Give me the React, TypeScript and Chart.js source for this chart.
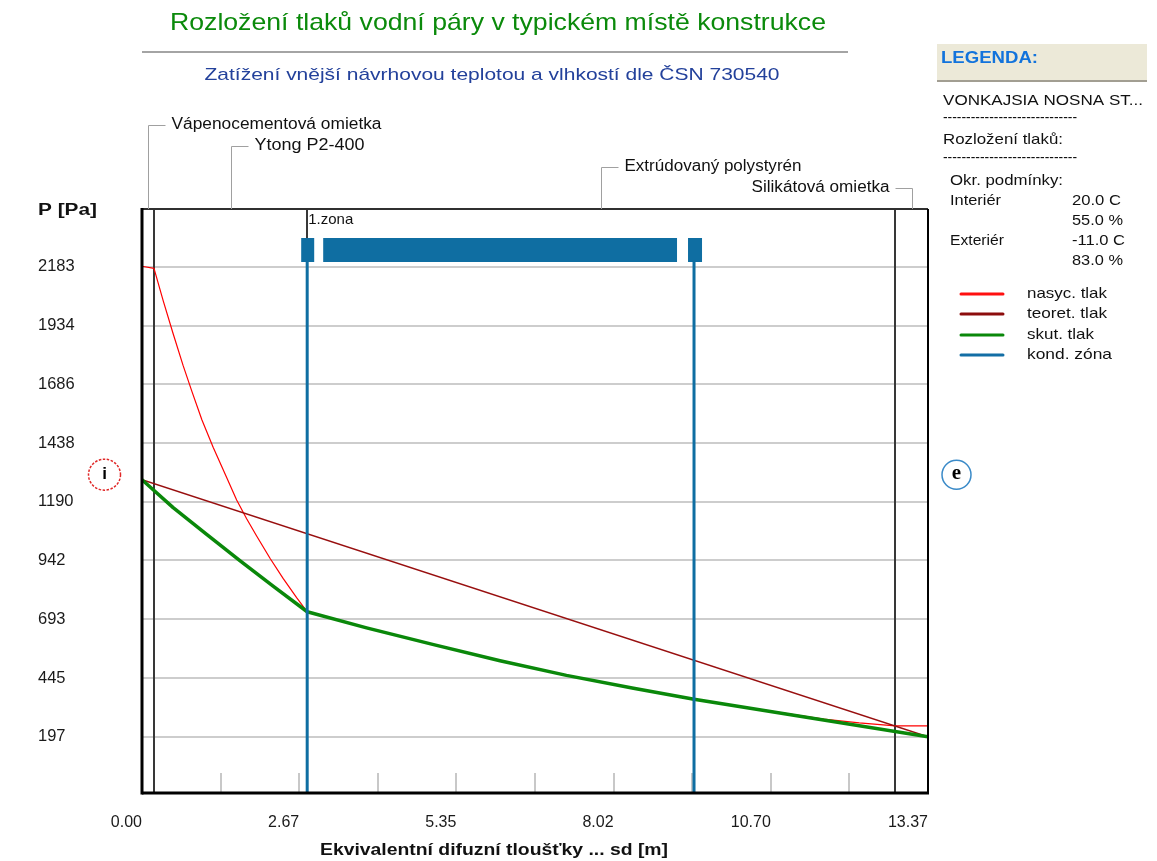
import React, { useEffect, useRef } from 'react';
import { Chart, registerables } from 'chart.js';

Chart.register(...registerables);

const CANVAS_W = 1157;
const CANVAS_H = 861;

const chartTitle = 'Rozložení tlaků vodní páry v typickém místě konstrukce';
const chartSubtitle = 'Zatížení vnější návrhovou teplotou a vlhkostí dle ČSN 730540';
const xAxisTitle = 'Ekvivalentní difuzní tloušťky ... sd [m]';
const yAxisTitle = 'P [Pa]';

const xTickValues = [0, 1.337, 2.674, 4.011, 5.348, 6.685, 8.022, 9.359, 10.696, 12.033, 13.37];
const xTickLabels = ['0.00', '', '2.67', '', '5.35', '', '8.02', '', '10.70', '', '13.37'];
const yTickValues = [197, 445, 693, 942, 1190, 1438, 1686, 1934, 2183];

// saturated vapour pressure (nasyc. tlak)
const satSd = [0, 0.204, 0.36, 0.53, 0.7, 0.85, 1.02, 1.21, 1.44, 1.61, 1.78, 1.95, 2.18, 2.4, 2.63, 2.81, 3.82, 4.96, 6.09, 7.22, 8.36, 9.39, 10.2, 11.0, 11.6, 12.2, 12.81, 13.37];
const satP = [2185, 2176, 2040, 1900, 1765, 1655, 1535, 1420, 1292, 1197, 1118, 1045, 950, 866, 785, 725, 657, 586, 518, 456, 402, 355, 324, 293, 271, 255, 243, 243];

// actual vapour pressure (skut. tlak)
const actSd = [0, 0.53, 1.1, 1.67, 2.23, 2.81, 3.82, 4.96, 6.09, 7.22, 8.36, 9.39, 13.37];
const actP = [1283, 1165, 1052, 940, 833, 725, 657, 586, 518, 456, 402, 355, 197];

// theoretical vapour pressure (teoret. tlak)
const theorSd = [0, 13.37];
const theorP = [1283, 197];

const layerEdges = [0, 0.204, 2.81, 12.81, 13.37];
const layerNames = ['Vápenocementová omietka', 'Ytong P2-400', 'Extrúdovaný polystyrén', 'Silikátová omietka'];
const zoneBounds = [2.81, 9.39];
const zoneName = '1.zona';

const legendHeader = 'LEGENDA:';
const legendConstruction = 'VONKAJSIA NOSNA ST...';
const legendSection = 'Rozložení tlaků:';
const legendDashes = '-----------------------------';
const boundaryTitle = 'Okr. podmínky:';
const boundaryLabels = ['Interiér', '', 'Exteriér', ''];
const boundaryValues = ['20.0 C', '55.0 %', '-11.0 C', '83.0 %'];
const seriesNames = ['nasyc. tlak', 'teoret. tlak', 'skut. tlak', 'kond. zóna'];
const seriesColors = ['#ff1010', '#8c0c0c', '#0a880a', '#136ea5'];

const SANS = '"Liberation Sans", Arial, sans-serif';

type TextOpts = { size: number; color?: string; weight?: string; family?: string; align?: 'left' | 'center' | 'right'; width?: number };

function drawText(ctx: CanvasRenderingContext2D, text: string, x: number, y: number, o: TextOpts) {
  ctx.save();
  ctx.font = `${o.weight || 'normal'} ${o.size}px ${o.family || SANS}`;
  ctx.fillStyle = o.color || '#111';
  ctx.textBaseline = 'middle';
  ctx.textAlign = 'left';
  const m = ctx.measureText(text).width;
  const w = o.width ?? m;
  const sx = o.width ? o.width / m : 1;
  let left = x;
  if (o.align === 'center') left = x - w / 2;
  else if (o.align === 'right') left = x - w;
  ctx.translate(left, y);
  ctx.scale(sx, 1);
  ctx.fillText(text, 0, 0);
  ctx.restore();
}

function line(ctx: CanvasRenderingContext2D, pts: number[][], color: string, width: number) {
  ctx.save();
  ctx.strokeStyle = color;
  ctx.lineWidth = width;
  ctx.beginPath();
  pts.forEach((p, i) => (i ? ctx.lineTo(p[0], p[1]) : ctx.moveTo(p[0], p[1])));
  ctx.stroke();
  ctx.restore();
}

const overlayPlugin = {
  id: 'overlay',
  beforeDatasetsDraw(chart: any) {
    const { ctx, chartArea: a, scales } = chart;
    const x = scales.x;
    xTickValues.forEach((v, i) => {
      if (i === 0 || i === xTickValues.length - 1) return;
      const px = Math.round(x.getPixelForValue(v));
      line(ctx, [[px, a.bottom - 20], [px, a.bottom]], '#c8c8c8', 2);
    });
    layerEdges.slice(1, -1).forEach((v) => {
      const px = Math.round(x.getPixelForValue(v));
      line(ctx, [[px, a.top], [px, a.bottom]], '#383838', 2);
    });
  },
  afterDatasetsDraw(chart: any) {
    const { ctx, chartArea: a, scales } = chart;
    const x = scales.x;
    const x1 = x.getPixelForValue(zoneBounds[0]);
    const x2 = x.getPixelForValue(zoneBounds[1]);
    const barTop = a.top + 29;
    const barH = 24;
    const blue = '#0f6ea2';
    [x1, x2].forEach((px) => line(ctx, [[px, barTop + barH], [px, a.bottom]], blue, 3));
    ctx.save();
    ctx.fillStyle = blue;
    ctx.fillRect(x1 - 6, barTop, 13, barH);
    ctx.fillRect(x1 + 16, barTop, x2 - x1 - 33, barH);
    ctx.fillRect(x2 - 6, barTop, 14, barH);
    ctx.restore();
    drawText(ctx, zoneName, x1 + 1, a.top + 11, { size: 15, color: '#111' });
  },
  afterDraw(chart: any) {
    const { ctx, chartArea: a, scales } = chart;
    const x = scales.x;
    const y = scales.y;

    // frame
    line(ctx, [[a.left, a.top], [a.right, a.top]], '#303030', 2);
    line(ctx, [[a.right, a.top], [a.right, a.bottom]], '#000', 2);
    line(ctx, [[a.left, a.top - 1], [a.left, a.bottom + 1.5]], '#000', 3);
    line(ctx, [[a.left, a.bottom], [a.right + 1, a.bottom]], '#000', 3);

    // titles
    drawText(ctx, chartTitle, 498, 23, { size: 24, color: '#0b8a0b', align: 'center', width: 656 });
    ctx.save();
    ctx.fillStyle = '#a4a4a4';
    ctx.fillRect(a.left, 51, 848 - a.left, 2);
    ctx.restore();
    drawText(ctx, chartSubtitle, 492, 75, { size: 17, color: '#23419b', align: 'center', width: 575 });

    // layer labels with leaders
    const rowY = [125, 146, 167, 188];
    const labelW = [210, 110, 177, 138];
    layerNames.forEach((name, i) => {
      const mid = Math.round(x.getPixelForValue((layerEdges[i] + layerEdges[i + 1]) / 2)) + 0.5;
      const ry = rowY[i] + 0.5;
      if (i < layerNames.length - 1) {
        line(ctx, [[mid, a.top], [mid, ry], [mid + 17, ry]], '#a0a0a0', 1);
        drawText(ctx, name, mid + 23, rowY[i], { size: 16, width: labelW[i] });
      } else {
        line(ctx, [[mid - 17, ry], [mid, ry], [mid, a.top]], '#a0a0a0', 1);
        drawText(ctx, name, mid - 23, rowY[i], { size: 16, width: labelW[i], align: 'right' });
      }
    });

    // axis titles
    drawText(ctx, yAxisTitle, 38, 211, { size: 16, weight: 'bold', width: 59 });
    drawText(ctx, xAxisTitle, 494, 851, { size: 16, weight: 'bold', align: 'center', width: 348 });

    // interior / exterior markers
    const cy = y.getPixelForValue(theorP[0]) - 5;
    const ix = a.left - 37.5;
    ctx.save();
    ctx.strokeStyle = '#e02828';
    ctx.lineWidth = 1.5;
    ctx.setLineDash([2.5, 1.5]);
    ctx.beginPath();
    ctx.ellipse(ix, cy, 16, 15.5, 0, 0, Math.PI * 2);
    ctx.stroke();
    ctx.restore();
    drawText(ctx, 'i', ix, cy, { size: 17, weight: 'bold', align: 'center', color: '#000' });
    const ex = a.right + 28.5;
    ctx.save();
    ctx.strokeStyle = '#3a8ac8';
    ctx.lineWidth = 1.5;
    ctx.beginPath();
    ctx.arc(ex, cy, 14.5, 0, Math.PI * 2);
    ctx.stroke();
    ctx.restore();
    drawText(ctx, 'e', ex, cy - 1, { size: 21, weight: 'bold', align: 'center', color: '#000', family: '"Liberation Serif", serif' });

    // legend panel
    ctx.save();
    ctx.fillStyle = '#ece9d8';
    ctx.fillRect(937, 44, 210, 36);
    ctx.fillStyle = '#a29e92';
    ctx.fillRect(937, 80, 210, 2);
    ctx.restore();
    drawText(ctx, legendHeader, 941, 59, { size: 16, weight: 'bold', color: '#1273dc', width: 97 });
    drawText(ctx, legendConstruction, 943, 101, { size: 15, width: 200 });
    drawText(ctx, legendDashes, 943, 118, { size: 15, width: 134 });
    drawText(ctx, legendSection, 943, 140, { size: 15, width: 120 });
    drawText(ctx, legendDashes, 943, 158, { size: 15, width: 134 });
    drawText(ctx, boundaryTitle, 950, 181, { size: 15, width: 113 });
    const bRows = [201, 221, 241, 261];
    const bLabelW = [51, 0, 54, 0];
    const bValueW = [49, 51, 53, 51];
    boundaryLabels.forEach((t, i) => {
      if (t) drawText(ctx, t, 950, bRows[i], { size: 15, width: bLabelW[i] });
      drawText(ctx, boundaryValues[i], 1072, bRows[i], { size: 15, width: bValueW[i] });
    });
    const lRows = [294, 314, 335, 355];
    const sW = [80, 80, 67, 85];
    seriesNames.forEach((t, i) => {
      ctx.save();
      ctx.lineCap = 'round';
      line(ctx, [[961, lRows[i]], [1003, lRows[i]]], seriesColors[i], 3);
      ctx.restore();
      drawText(ctx, t, 1027, lRows[i], { size: 15, width: sW[i] });
    });
  },
};

const toPoints = (xs: number[], ys: number[]) => xs.map((v, i) => ({ x: v, y: ys[i] }));

export default function App() {
  const ref = useRef<HTMLCanvasElement>(null);
  useEffect(() => {
    const canvas = ref.current;
    if (!canvas) return;
    const chart = new Chart(canvas, {
      type: 'line',
      data: {
        datasets: [
          {
            label: seriesNames[2],
            data: toPoints(actSd, actP),
            borderColor: seriesColors[2],
            borderWidth: 3.5,
            borderJoinStyle: 'round',
            pointRadius: 0,
            tension: 0,
            order: 1,
          },
          {
            label: seriesNames[1],
            data: toPoints(theorSd, theorP),
            borderColor: '#980f0f',
            borderWidth: 1.5,
            pointRadius: 0,
            tension: 0,
            order: 2,
          },
          {
            label: seriesNames[0],
            data: toPoints(satSd, satP),
            borderColor: '#ff0000',
            borderWidth: 1.2,
            borderJoinStyle: 'round',
            pointRadius: 0,
            tension: 0,
            order: 3,
          },
        ],
      },
      options: {
        responsive: false,
        animation: false,
        devicePixelRatio: 1,
        layout: { padding: { left: 38, right: 229, top: 209, bottom: 0 } },
        plugins: { legend: { display: false }, tooltip: { enabled: false }, title: { display: false } },
        scales: {
          x: {
            type: 'linear',
            min: 0,
            max: 13.37,
            afterBuildTicks: (s: any) => {
              s.ticks = xTickValues.map((v) => ({ value: v }));
            },
            afterFit: (s: any) => {
              s.height = 68;
            },
            grid: { display: false },
            border: { display: false },
            ticks: {
              autoSkip: false,
              maxRotation: 0,
              align: 'end',
              padding: 12,
              color: '#1a1a1a',
              font: { family: SANS, size: 16 },
              callback: (_v: any, i: number) => xTickLabels[i],
            },
          },
          y: {
            type: 'linear',
            min: -41,
            max: 2427,
            afterBuildTicks: (s: any) => {
              s.ticks = yTickValues.map((v) => ({ value: v }));
            },
            afterFit: (s: any) => {
              s.width = 104;
            },
            grid: { color: '#cdcdcd', lineWidth: 2, drawTicks: false },
            border: { display: false },
            ticks: {
              crossAlign: 'far',
              color: '#1a1a1a',
              font: { family: SANS, size: 16.5 },
              callback: (v: any) => String(v),
            },
          },
        },
      },
      plugins: [overlayPlugin],
    } as any);
    return () => chart.destroy();
  }, []);
  return (
    <div style={{ position: 'absolute', left: 0, top: 0, width: CANVAS_W, height: CANVAS_H, background: '#fff' }}>
      <canvas ref={ref} width={CANVAS_W} height={CANVAS_H} style={{ display: 'block', width: CANVAS_W, height: CANVAS_H }} />
    </div>
  );
}
